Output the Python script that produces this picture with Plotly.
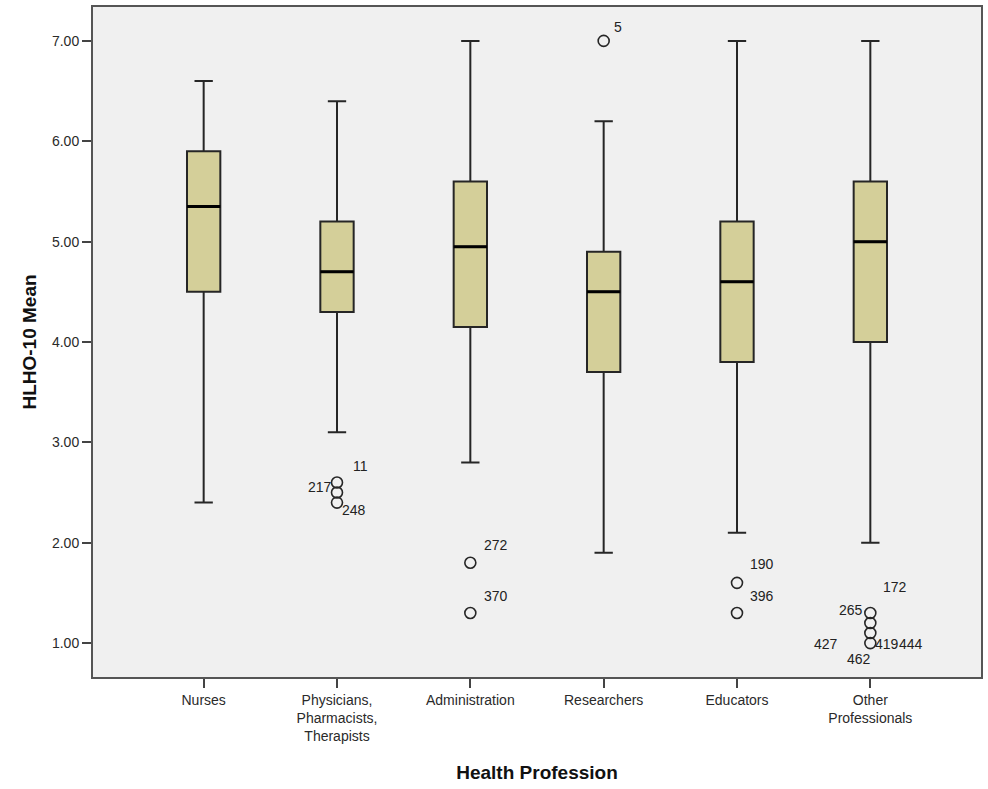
import plotly.graph_objects as go

# Health profession groups and box-plot summaries of HLHO-10 mean scores
categories = [
    "Nurses",
    "Physicians,<br>Pharmacists,<br>Therapists",
    "Administration",
    "Researchers",
    "Educators",
    "Other<br>Professionals",
]
lower_whisker = [2.4, 3.1, 2.8, 1.9, 2.1, 2.0]
q1 = [4.5, 4.3, 4.15, 3.7, 3.8, 4.0]
median = [5.35, 4.7, 4.95, 4.5, 4.6, 5.0]
q3 = [5.9, 5.2, 5.6, 4.9, 5.2, 5.6]
upper_whisker = [6.6, 6.4, 7.0, 6.2, 7.0, 7.0]

# Outlying cases (group index, value)
outlier_group = [1, 1, 1, 2, 2, 3, 4, 4, 5, 5, 5, 5]
outlier_value = [2.6, 2.5, 2.4, 1.8, 1.3, 7.0, 1.6, 1.3, 1.3, 1.2, 1.1, 1.0]

# Case-number labels attached to outliers (group index, value, case id)
label_group = [1, 1, 1, 2, 2, 3, 4, 4, 5, 5, 5, 5, 5, 5]
label_value = [2.6, 2.5, 2.4, 1.8, 1.3, 7.0, 1.6, 1.3, 1.3, 1.3, 1.0, 1.0, 1.0, 1.0]
label_text = ["11", "217", "248", "272", "370", "5", "190", "396",
              "172", "265", "427", "462", "419", "444"]

# Label placement relative to its marker (pixels)
label_offsets = {
    "11": (14, 17, "left"), "217": (-3, 6, "right"), "248": (3, -7, "left"),
    "272": (12, 18, "left"), "370": (12, 17, "left"), "5": (8, 14, "left"),
    "190": (11, 19, "left"), "396": (11, 17, "left"), "172": (11, 26, "left"),
    "265": (-5, 3, "right"), "427": (-30, -1, "right"), "462": (3, -16, "right"),
    "419": (3, -1, "left"), "444": (27, -1, "left"),
}

FONT = "Liberation Sans, Arial, sans-serif"
BOX_FILL = "#d4cf99"
LINE = "#262626"
BOX_W = 0.25

fig = go.Figure()

for i, name in enumerate(categories):
    fig.add_trace(go.Box(
        x=[i], q1=[q1[i]], median=[median[i]], q3=[q3[i]],
        lowerfence=[lower_whisker[i]], upperfence=[upper_whisker[i]],
        width=BOX_W, whiskerwidth=0.55,
        fillcolor=BOX_FILL, line=dict(color=LINE, width=2),
        boxpoints=False, showlegend=False, hoverinfo="skip",
    ))
    # heavier median bar
    fig.add_shape(type="line", xref="x", yref="y",
                  x0=i - BOX_W / 2, x1=i + BOX_W / 2,
                  y0=median[i], y1=median[i],
                  line=dict(color="black", width=3))

fig.add_trace(go.Scatter(
    x=outlier_group, y=outlier_value, mode="markers",
    marker=dict(symbol="circle-open", size=11, color=LINE,
                line=dict(width=1.6, color=LINE)),
    showlegend=False, hoverinfo="skip",
))

for g, v, t in zip(label_group, label_value, label_text):
    dx, dy, anchor = label_offsets[t]
    fig.add_annotation(x=g, y=v, text=t, showarrow=False,
                       xshift=dx, yshift=dy, xanchor=anchor, yanchor="middle",
                       font=dict(family=FONT, size=14, color="#222"))

fig.update_layout(
    width=988, height=789,
    margin=dict(l=93, r=5, t=6, b=112),
    paper_bgcolor="white", plot_bgcolor="#f0f0f0",
    font=dict(family=FONT, size=13, color="#333"),
    xaxis=dict(
        range=[-0.83, 5.83], tickmode="array",
        tickvals=list(range(len(categories))), ticktext=categories,
        ticks="outside", ticklen=9, tickwidth=2, tickcolor="#444",
        showline=True, linecolor="#555", linewidth=2, mirror=True,
        showgrid=False, zeroline=False,
        tickfont=dict(family=FONT, size=14, color="#2a2a2a"),
        title=dict(text="<b>Health Profession</b>", standoff=22,
                   font=dict(family=FONT, size=19, color="#111")),
    ),
    yaxis=dict(
        range=[0.662, 7.338], tickmode="array",
        tickvals=[1, 2, 3, 4, 5, 6, 7], tickformat=".2f",
        ticks="outside", ticklen=9, tickwidth=2, tickcolor="#444",
        showline=True, linecolor="#555", linewidth=2, mirror=True,
        showgrid=False, zeroline=False,
        tickfont=dict(family=FONT, size=14, color="#2a2a2a"),
        title=dict(text="<b>HLHO-10 Mean</b>", standoff=10,
                   font=dict(family=FONT, size=19, color="#111")),
    ),
)

fig.write_html("out.html")
